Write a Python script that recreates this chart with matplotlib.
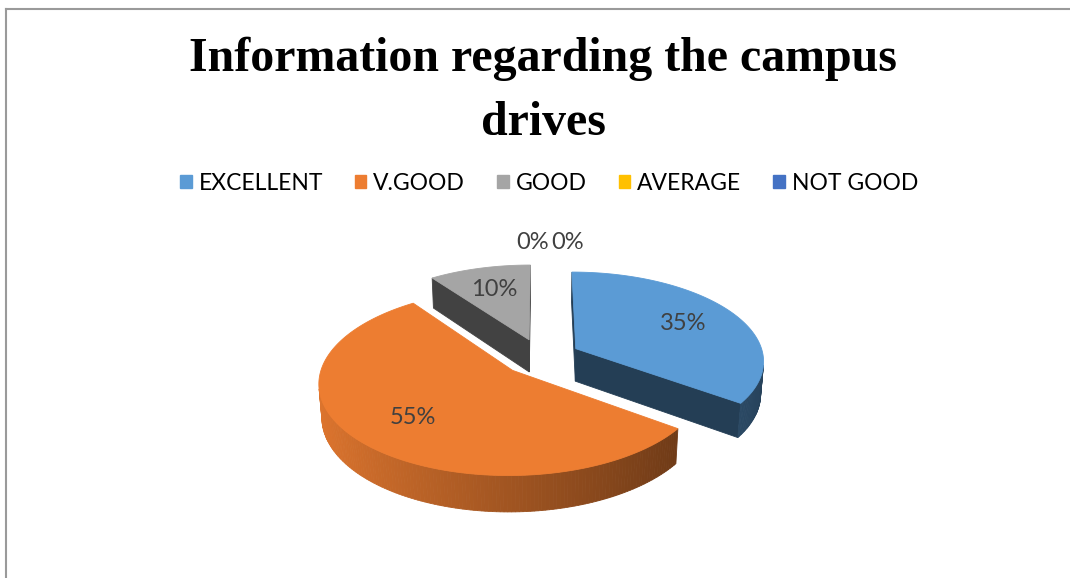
import numpy as np
import matplotlib.pyplot as plt
from matplotlib.patches import Polygon, Patch
from matplotlib.colors import to_rgb

categories = ["EXCELLENT", "V.GOOD", "GOOD", "AVERAGE", "NOT GOOD"]
percent = [35, 55, 10, 0, 0]
colors = ["#5B9BD5", "#ED7D31", "#A5A5A5", "#FFC000", "#4472C4"]

# 3-D pie geometry (screen pixels)
cx, cy = 541, 357
R = 188
elev = np.radians(28)
dist = 7.0
thick = 0.2
explode = 0.21

fig = plt.figure(figsize=(10.7, 5.78), dpi=100)
ax = fig.add_axes([0, 0, 1, 1])
ax.set_xlim(0, 1070)
ax.set_ylim(578, 0)
ax.axis("off")


def proj(X, Y, Z):
    v = Y * np.sin(elev) + Z * np.cos(elev)
    w = Y * np.cos(elev) - Z * np.sin(elev)
    s = 1 / (1 + w / dist)
    return cx + R * s * X, cy - R * s * v, w


cam = np.array([0, -dist * np.cos(elev), dist * np.sin(elev)])


def shade(col, f):
    return tuple(np.clip(np.array(to_rgb(col)) * f, 0, 1))


def facing(normal, point):
    return np.dot(normal, cam - np.array(point)) > 0


total = sum(percent)
bounds = np.cumsum([0] + percent) / total * 2 * np.pi
slices = []
for i, p in enumerate(percent):
    t0, t1 = bounds[i], bounds[i + 1]
    mid = (t0 + t1) / 2
    ox, oy = explode * np.sin(mid), explode * np.cos(mid)
    slices.append((i, t0, t1, mid, ox, oy))

# back slices first
order = sorted([s for s in slices if percent[s[0]] > 0],
               key=lambda s: -proj(s[4], s[5], 0)[2])

for i, t0, t1, mid, ox, oy in order:
    col = colors[i]
    t = np.linspace(t0, t1, max(int(np.degrees(t1 - t0)), 4))
    faces = []
    # outer rim
    for a, b in zip(t[:-1], t[1:]):
        m = (a + b) / 2
        pt = (ox + np.sin(m), oy + np.cos(m), -thick / 2)
        if not facing(np.array([np.sin(m), np.cos(m), 0]), pt):
            continue
        pts = [proj(ox + np.sin(a), oy + np.cos(a), 0),
               proj(ox + np.sin(b), oy + np.cos(b), 0),
               proj(ox + np.sin(b), oy + np.cos(b), -thick),
               proj(ox + np.sin(a), oy + np.cos(a), -thick)]
        f = 0.68 - 0.26 * np.sin(m)
        faces.append((np.mean([q[2] for q in pts]), pts, shade(col, f)))
    # radial cut faces
    for ang, nrm in ((t0, (-np.cos(t0), np.sin(t0), 0)),
                     (t1, (np.cos(t1), -np.sin(t1), 0))):
        pt = (ox + 0.5 * np.sin(ang), oy + 0.5 * np.cos(ang), -thick / 2)
        if not facing(np.array(nrm), pt):
            continue
        pts = [proj(ox, oy, 0),
               proj(ox + np.sin(ang), oy + np.cos(ang), 0),
               proj(ox + np.sin(ang), oy + np.cos(ang), -thick),
               proj(ox, oy, -thick)]
        faces.append((np.mean([q[2] for q in pts]), pts, shade(col, 0.4)))
    for _, pts, c in sorted(faces, key=lambda f: -f[0]):
        ax.add_patch(Polygon([(q[0], q[1]) for q in pts], closed=True,
                             facecolor=c, edgecolor=c, lw=0.6))
    top = [proj(ox, oy, 0)] + [proj(ox + np.sin(a), oy + np.cos(a), 0) for a in t]
    ax.add_patch(Polygon([(q[0], q[1]) for q in top], closed=True,
                         facecolor=col, edgecolor=col, lw=0.6))

# data labels
lab_font = ["Lato", "DejaVu Sans"]
zero_count = 0
for i, t0, t1, mid, ox, oy in slices:
    if percent[i] > 0:
        x, y, _ = proj(ox + 0.68 * np.sin(mid), oy + 0.68 * np.cos(mid), 0)
        ax.text(x, y, f"{percent[i]}%", ha="center", va="center",
                fontsize=17, color="#404040", family=lab_font)
    else:
        x, y, _ = proj(1.55 * np.sin(mid), 1.55 * np.cos(mid), 0)
        dx = -8 if zero_count == 0 else 27
        ax.annotate(f"{percent[i]}%", (x, y), xytext=(dx, 0),
                    textcoords="offset pixels", ha="center", va="center",
                    fontsize=17, color="#404040", family=lab_font)
        zero_count += 1

ax.text(543, 91, "Information regarding the campus\ndrives", ha="center",
        va="center", fontsize=34.5, fontweight="bold",
        family="Liberation Serif", linespacing=1.6)

handles = [Patch(facecolor=c, edgecolor=c) for c in colors]
fig.legend(handles, categories, loc="center", bbox_to_anchor=(549 / 1070, 1 - 183 / 578),
           ncol=5, frameon=False, handlelength=0.5, handleheight=0.5,
           handletextpad=0.3, columnspacing=1.4,
           prop={"family": lab_font, "size": 16.5})

# chart area border (top and left edges)
ax.plot([6, 1070], [9, 9], color="#9a9a9a", lw=1.5)
ax.plot([6, 6], [9, 578], color="#9a9a9a", lw=1.5)

fig.savefig("out.png", dpi=100)
